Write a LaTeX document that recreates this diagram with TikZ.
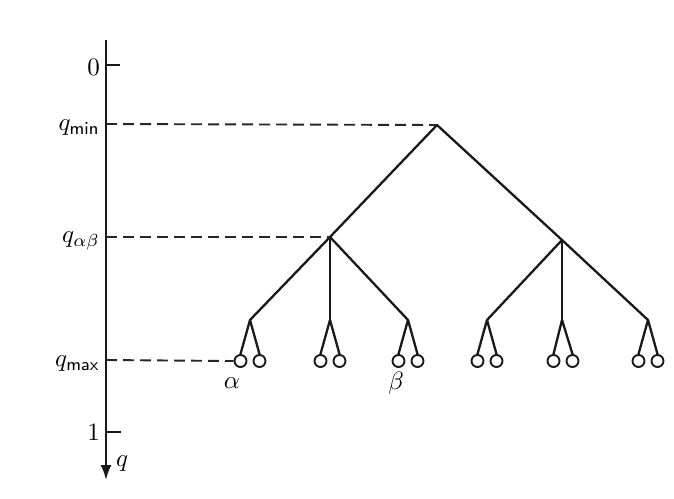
\documentclass[tikz,border=0pt]{standalone}
\usepackage{graphicx}
\usetikzlibrary{arrows.meta}
\newcommand{\LBtxt}[1]{\scalebox{2.5}{#1}}
\begin{document}
\begin{tikzpicture}[x=1pt,y=-1pt,
  edge/.style={line width=2.3pt, line cap=round, black!90},
  guide/.style={line width=1.9pt, dash pattern=on 11pt off 6pt, black!85},
  leaf/.style={circle, draw=black!90, line width=1.9pt, minimum size=12pt, inner sep=0pt, fill=white},
  lbl/.style={inner sep=1pt},
  pt/.style={inner sep=0pt, minimum size=0pt}]
\useasboundingbox (0,0) rectangle (674,498);
% axis
\coordinate (top) at (106,40);
\coordinate (tip) at (106,480);
\draw[line width=2.1pt, black!90, -{Latex[length=15pt,width=11pt]}] (top) -- (tip);
\node[lbl, anchor=north west] (qlab) at (115,455) {\LBtxt{$q$}};
% ticks
\coordinate (t0) at (106,65); \coordinate (t0e) at (120,65);
\draw[line width=1.6pt, black!90] (t0) -- (t0e);
\node[lbl, anchor=east] (l0) at (101,67) {\LBtxt{$0$}};
\coordinate (t1) at (106,432); \coordinate (t1e) at (121,432);
\draw[line width=1.6pt, black!90] (t1) -- (t1e);
\node[lbl, anchor=east] (l1) at (101,432) {\LBtxt{$1$}};
% level labels
\coordinate (amin) at (106,124);
\coordinate (aab) at (106,237);
\coordinate (amax) at (106,360);
\node[lbl, anchor=east] (lmin) at (101,128) {\LBtxt{$q_{\mathsf{min}}$}};
\node[lbl, anchor=east] (lab) at (101,241) {\LBtxt{$q_{\alpha\beta}$}};
\node[lbl, anchor=east] (lmax) at (101,364) {\LBtxt{$q_{\mathsf{max}}$}};
% tree nodes
\node[pt] (root) at (437,125) {};
\node[pt] (L) at (330,237) {};
\node[pt] (R) at (562,240) {};
\node[pt] (a1) at (250,320) {};
\node[pt] (a2) at (330,320) {};
\node[pt] (a3) at (408,320) {};
\node[pt] (b1) at (487,320) {};
\node[pt] (b2) at (562,320) {};
\node[pt] (b3) at (648,320) {};
% leaves
\foreach \n/\x in {a1/250,a2/330,a3/408,b1/487,b2/563,b3/648}{
  \node[leaf] (\n l) at (\x-9.5,361) {};
  \node[leaf] (\n r) at (\x+9.5,361) {};
  \draw[edge] (\n.center) -- (\n l.north);
  \draw[edge] (\n.center) -- (\n r.north);
}
% edges
\draw[edge] (root.center) -- (L.center);
\draw[edge] (root.center) -- (R.center);
\draw[edge] (L.center) -- (a1.center);
\draw[edge] (L.center) -- (a2.center);
\draw[edge] (L.center) -- (a3.center);
\draw[edge] (R.center) -- (b1.center);
\draw[edge] (R.center) -- (b2.center);
\draw[edge] (R.center) -- (b3.center);
% guides
\draw[guide] (amin) -- (root.center);
\draw[guide] (aab) -- (L.center);
\draw[guide] (amax) -- (a1l.west);
% leaf labels
\node[lbl] (alpha) at (232,383) {\LBtxt{$\alpha$}};
\node[lbl] (beta) at (396,383) {\LBtxt{$\beta$}};
\end{tikzpicture}
\end{document}
